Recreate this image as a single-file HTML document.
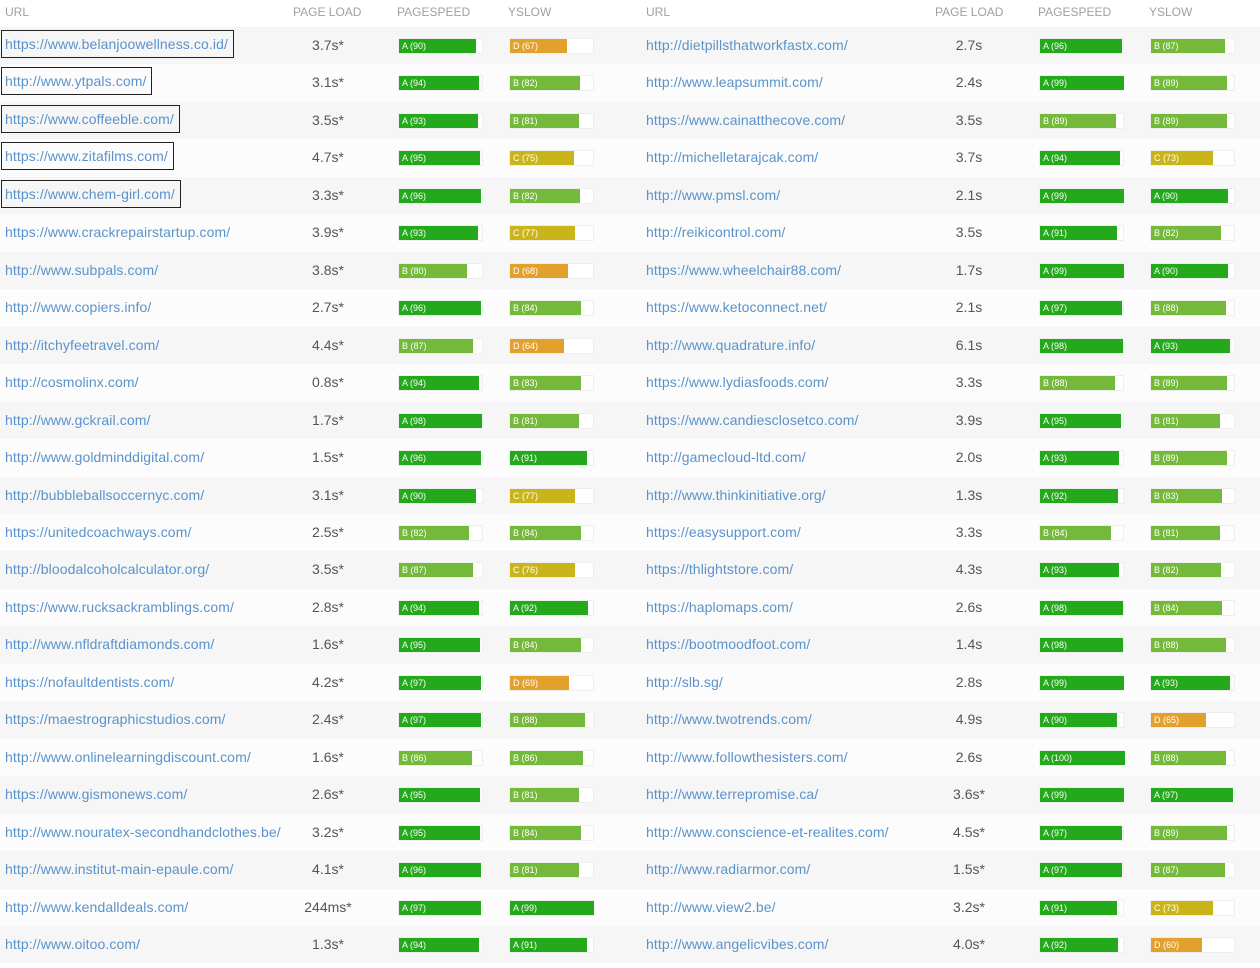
<!DOCTYPE html><html><head><meta charset="utf-8"><style>
body{margin:0;width:1260px;height:968px;background:#fff;font-family:"Liberation Sans",sans-serif;position:relative;overflow:hidden}
.h{position:absolute;top:5px;font-size:12px;color:#a0a0a0}
.r{position:absolute;left:0;width:1260px;height:37.46px}
.u{position:absolute;font-size:14px;color:#5a93cb;top:10px;letter-spacing:0.1px}
.u.b{border:1.5px solid #222;padding:5px 5px 5px 3px;top:3px;left:1px !important}
.l{position:absolute;font-size:14px;color:#555;top:10px;width:80px;text-align:center}
.bar{position:absolute;top:11px;width:85px;height:16px;background:#fff;border:1px solid #eee;box-sizing:border-box}
.f{height:14px;font-size:9px;color:#fff;line-height:14px;padding-left:3px;box-sizing:border-box;white-space:nowrap}
</style></head><body>
<div class="h" style="left:5px">URL</div><div class="h" style="left:293px">PAGE LOAD</div><div class="h" style="left:397px">PAGESPEED</div><div class="h" style="left:508px">YSLOW</div>
<div class="h" style="left:646px">URL</div><div class="h" style="left:935px">PAGE LOAD</div><div class="h" style="left:1038px">PAGESPEED</div><div class="h" style="left:1149px">YSLOW</div>
<div id="t"></div>
<script>
var L=[["https://www.belanjoowellness.co.id/","3.7s*","A",90,"D",67,1],["http://www.ytpals.com/","3.1s*","A",94,"B",82,1],["https://www.coffeeble.com/","3.5s*","A",93,"B",81,1],["https://www.zitafilms.com/","4.7s*","A",95,"C",75,1],["https://www.chem-girl.com/","3.3s*","A",96,"B",82,1],["https://www.crackrepairstartup.com/","3.9s*","A",93,"C",77],["http://www.subpals.com/","3.8s*","B",80,"D",68],["http://www.copiers.info/","2.7s*","A",96,"B",84],["http://itchyfeetravel.com/","4.4s*","B",87,"D",64],["http://cosmolinx.com/","0.8s*","A",94,"B",83],["http://www.gckrail.com/","1.7s*","A",98,"B",81],["http://www.goldminddigital.com/","1.5s*","A",96,"A",91],["http://bubbleballsoccernyc.com/","3.1s*","A",90,"C",77],["https://unitedcoachways.com/","2.5s*","B",82,"B",84],["http://bloodalcoholcalculator.org/","3.5s*","B",87,"C",76],["https://www.rucksackramblings.com/","2.8s*","A",94,"A",92],["http://www.nfldraftdiamonds.com/","1.6s*","A",95,"B",84],["https://nofaultdentists.com/","4.2s*","A",97,"D",69],["https://maestrographicstudios.com/","2.4s*","A",97,"B",88],["http://www.onlinelearningdiscount.com/","1.6s*","B",86,"B",86],["https://www.gismonews.com/","2.6s*","A",95,"B",81],["http://www.nouratex-secondhandclothes.be/","3.2s*","A",95,"B",84],["http://www.institut-main-epaule.com/","4.1s*","A",96,"B",81],["http://www.kendalldeals.com/","244ms*","A",97,"A",99],["http://www.oitoo.com/","1.3s*","A",94,"A",91]];
var R=[["http://dietpillsthatworkfastx.com/","2.7s","A",96,"B",87],["http://www.leapsummit.com/","2.4s","A",99,"B",89],["https://www.cainatthecove.com/","3.5s","B",89,"B",89],["http://michelletarajcak.com/","3.7s","A",94,"C",73],["http://www.pmsl.com/","2.1s","A",99,"A",90],["http://reikicontrol.com/","3.5s","A",91,"B",82],["https://www.wheelchair88.com/","1.7s","A",99,"A",90],["https://www.ketoconnect.net/","2.1s","A",97,"B",88],["http://www.quadrature.info/","6.1s","A",98,"A",93],["https://www.lydiasfoods.com/","3.3s","B",88,"B",89],["https://www.candiesclosetco.com/","3.9s","A",95,"B",81],["http://gamecloud-ltd.com/","2.0s","A",93,"B",89],["http://www.thinkinitiative.org/","1.3s","A",92,"B",83],["https://easysupport.com/","3.3s","B",84,"B",81],["https://thlightstore.com/","4.3s","A",93,"B",82],["https://haplomaps.com/","2.6s","A",98,"B",84],["https://bootmoodfoot.com/","1.4s","A",98,"B",88],["http://slb.sg/","2.8s","A",99,"A",93],["http://www.twotrends.com/","4.9s","A",90,"D",65],["http://www.followthesisters.com/","2.6s","A",100,"B",88],["http://www.terrepromise.ca/","3.6s*","A",99,"A",97],["http://www.conscience-et-realites.com/","4.5s*","A",97,"B",89],["http://www.radiarmor.com/","1.5s*","A",97,"B",87],["http://www.view2.be/","3.2s*","A",91,"C",73],["http://www.angelicvibes.com/","4.0s*","A",92,"D",60]];
var C={A:"#24a81c",B:"#74b93a",C:"#c9b51a",D:"#e2a12c"};
function bar(x,g,s){return '<div class="bar" style="left:'+x+'px"><div class="f" style="width:'+(s*0.85)+'px;background:'+C[g]+'">'+g+' ('+s+')</div></div>';}
function side(d,o){return '<div class="u'+(d[6]?' b':'')+'" style="left:'+(o+5)+'px">'+d[0]+'</div><div class="l" style="left:'+(o+288)+'px">'+d[1]+'</div>'+bar(o+398,d[2],d[3])+bar(o+509,d[4],d[5]);}
var h='';for(var i=0;i<25;i++){h+='<div class="r" style="top:'+(27+i*37.46)+'px;background:'+(i%2?'#fcfcfc':'#f6f6f6')+'">'+side(L[i],0)+side(R[i],641)+'</div>';}
document.getElementById('t').innerHTML=h;
</script></body></html>
